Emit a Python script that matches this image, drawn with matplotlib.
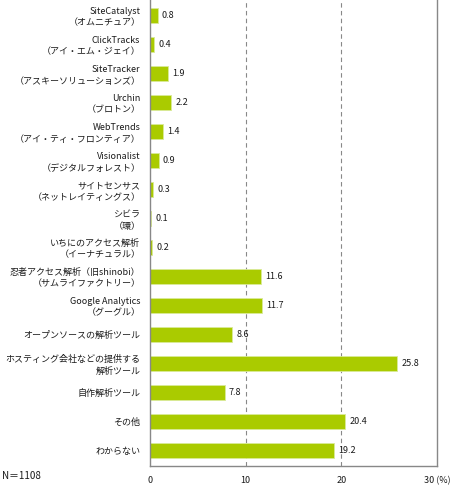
import matplotlib.pyplot as plt

plt.rcParams['font.family'] = ['Noto Sans CJK JP', 'DejaVu Sans']

labels = [
    'SiteCatalyst\n（オムニチュア）',
    'ClickTracks\n（アイ・エム・ジェイ）',
    'SiteTracker\n（アスキーソリューションズ）',
    'Urchin\n（ブロトン）',
    'WebTrends\n（アイ・ティ・フロンティア）',
    'Visionalist\n（デジタルフォレスト）',
    'サイトセンサス\n（ネットレイティングス）',
    'シビラ\n（環）',
    'いちにのアクセス解析\n（イーナチュラル）',
    '忍者アクセス解析（旧shinobi）\n（サムライファクトリー）',
    'Google Analytics\n（グーグル）',
    'オープンソースの解析ツール',
    'ホスティング会社などの提供する\n解析ツール',
    '自作解析ツール',
    'その他',
    'わからない',
]
values = [0.8, 0.4, 1.9, 2.2, 1.4, 0.9, 0.3, 0.1, 0.2, 11.6, 11.7, 8.6, 25.8, 7.8, 20.4, 19.2]
xticks = [0, 10, 20, 30]
xtick_labels = ['0', '10', '20', '30 (%)']

fig = plt.figure(figsize=(4.6, 4.87), dpi=100)
ax = fig.add_axes([150 / 460, 21 / 487, 287 / 460, 466 / 487])

pos = list(range(len(values)))
ax.barh(pos, values, height=0.52, color='#aacb00', edgecolor='#d9ea99', linewidth=0.6)
for p, v in zip(pos, values):
    ax.text(v + 0.45, p, f'{v}', va='center', ha='left', fontsize=6.5, color='#1a1a1a')

ax.set_xlim(0, 30)
ax.set_ylim(len(values) - 0.45, -0.52)
ax.set_yticks(pos)
ax.set_yticklabels(labels, fontsize=6.5, color='#1a1a1a', linespacing=1.35)
ax.tick_params(axis='y', length=0, pad=7)
ax.set_xticks(xticks)
ax.set_xticklabels(xtick_labels, fontsize=6.5, color='#1a1a1a')
ax.tick_params(axis='x', length=0, pad=7)

for x in [10, 20]:
    ax.axvline(x, color='#888888', linestyle=(0, (4, 3)), linewidth=0.8, zorder=0)

ax.spines['top'].set_visible(False)
for s in ['left', 'right', 'bottom']:
    ax.spines[s].set_color('#888888')
    ax.spines[s].set_linewidth(1.0)

fig.text(2 / 460, 1 - 476 / 487, 'N＝1108', fontsize=7, va='center', ha='left', color='#1a1a1a')

fig.savefig('out.png', dpi=100)
